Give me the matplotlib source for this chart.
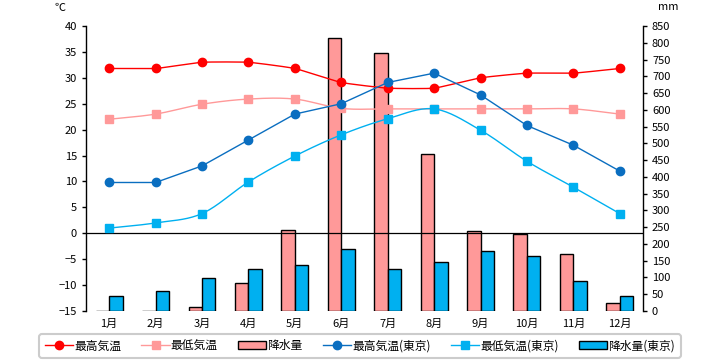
import numpy as np
import matplotlib
matplotlib.use('Agg')
import matplotlib.pyplot as plt
from matplotlib.lines import Line2D
from matplotlib.patches import Patch

plt.rcParams['font.family'] = ['Noto Sans CJK JP', 'DejaVu Sans']

# Data
months = ['1月', '2月', '3月', '4月', '5月', '6月', '7月', '8月', '9月', '10月', '11月', '12月']
max_temp = [31.8, 31.8, 33.0, 33.0, 31.8, 29.1, 28.0, 28.0, 30.0, 30.9, 30.9, 31.8]
min_temp = [22.0, 23.0, 24.9, 25.9, 25.9, 24.1, 24.0, 24.0, 24.0, 24.0, 24.0, 23.0]
precip = [0, 0, 12, 83, 241, 813, 769, 469, 238, 230, 169, 23]
tokyo_max = [9.8, 9.8, 13.0, 18.0, 23.0, 25.0, 29.1, 30.9, 26.7, 20.8, 17.0, 12.0]
tokyo_min = [1.0, 2.0, 3.8, 9.9, 14.9, 19.0, 22.1, 24.0, 19.9, 13.9, 8.9, 3.8]
tokyo_precip = [44, 59, 98, 124, 136, 184, 124, 145, 178, 163, 89, 44]


def smooth(x, y, tension=1.0, n=20):
    # Catmull-Rom curve through the points (like Excel's smoothed line)
    x = np.asarray(x, float)
    y = np.asarray(y, float)
    px = np.concatenate([[2 * x[0] - x[1]], x, [2 * x[-1] - x[-2]]])
    py = np.concatenate([[2 * y[0] - y[1]], y, [2 * y[-1] - y[-2]]])
    xs, ys = [], []
    t = np.linspace(0, 1, n)
    h00 = 2 * t ** 3 - 3 * t ** 2 + 1
    h10 = t ** 3 - 2 * t ** 2 + t
    h01 = -2 * t ** 3 + 3 * t ** 2
    h11 = t ** 3 - t ** 2
    for i in range(1, len(px) - 2):
        for p, out in ((px, xs), (py, ys)):
            m1 = tension * 0.5 * (p[i + 1] - p[i - 1])
            m2 = tension * 0.5 * (p[i + 2] - p[i])
            out.extend(h00 * p[i] + h10 * m1 + h01 * p[i + 1] + h11 * m2)
    return np.array(xs), np.array(ys)


RED = '#FF0000'
PINK = '#FF9999'
BLUE = '#0A6EC0'
LBLUE = '#00B0F0'

fig = plt.figure(figsize=(7.2, 3.6), dpi=100)
ax = fig.add_axes([0.1194, 0.1361, 0.7736, 0.7917])
ax2 = ax.twinx()
ax.set_zorder(ax2.get_zorder() + 1)
ax.patch.set_visible(False)
ax2.set_facecolor('#FFFFCC')

x = np.arange(len(months))
w = 0.29
ax2.bar(x - w / 2, precip, w, color=PINK, edgecolor='black', linewidth=1)
ax2.bar(x + w / 2, tokyo_precip, w, color=LBLUE, edgecolor='black', linewidth=1)

ax.axhline(0, color='black', linewidth=0.9)

sx, sy = smooth(x, max_temp, tension=0.4)
ax.plot(sx, sy, color=RED, lw=1)
ax.plot(x, max_temp, 'o', color=RED, ms=6)
sx, sy = smooth(x, min_temp)
ax.plot(sx, sy, color=PINK, lw=1)
ax.plot(x, min_temp, 's', color=PINK, ms=5.5)
ax.plot(x, tokyo_max, '-o', color=BLUE, lw=1, ms=6)
sx, sy = smooth(x, tokyo_min)
ax.plot(sx, sy, color=LBLUE, lw=1)
ax.plot(x, tokyo_min, 's', color=LBLUE, ms=5.5)

ax.set_xlim(-0.5, 11.5)
ax.set_ylim(-15, 40)
ax.set_yticks(range(-15, 41, 5))
ax2.set_ylim(0, 850)
ax2.set_yticks(range(0, 851, 50))
ax.set_xticks(x)
ax.set_xticklabels(months)

for a in (ax, ax2):
    for s in ('top', 'bottom'):
        a.spines[s].set_visible(False)
    a.tick_params(labelsize=8, width=1, length=3, color='black')
ax.spines['right'].set_visible(False)
ax2.spines['left'].set_visible(False)
ax.spines['left'].set_linewidth(1)
ax2.spines['right'].set_linewidth(1)
ax.tick_params(axis='x', length=0, pad=6)

fig.text(0.083, 0.978, '℃', fontsize=8, ha='center', va='center')
fig.text(0.928, 0.98, 'mm', fontsize=8, ha='center', va='center')

handles = [
    Line2D([], [], color=RED, marker='o', ms=6, lw=1),
    Line2D([], [], color=PINK, marker='s', ms=5.5, lw=1),
    Patch(facecolor=PINK, edgecolor='black', linewidth=1),
    Line2D([], [], color=BLUE, marker='o', ms=6, lw=1),
    Line2D([], [], color=LBLUE, marker='s', ms=5.5, lw=1),
    Patch(facecolor=LBLUE, edgecolor='black', linewidth=1),
]
labels = ['最高気温', '最低気温', '降水量', '最高気温(東京)', '最低気温(東京)', '降水量(東京)']
leg = fig.legend(handles, labels, loc='center', bbox_to_anchor=(0.5, 0.039), ncol=6,
                 fontsize=8.5, frameon=True, fancybox=True, handlelength=2.4,
                 handletextpad=0.1, columnspacing=1.7, borderpad=0.45)
leg.get_frame().set_edgecolor('#C0C0C0')
leg.get_frame().set_linewidth(1.5)

fig.savefig('out.png', dpi=100)
